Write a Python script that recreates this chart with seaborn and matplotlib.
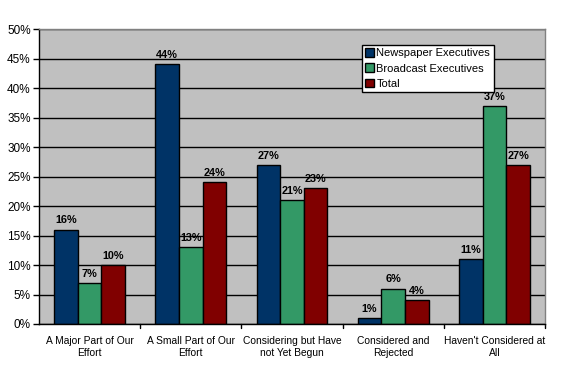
import matplotlib
matplotlib.use("Agg")
import matplotlib.pyplot as plt
import seaborn as sns
import pandas as pd

categories = ["A Major Part of Our\nEffort", "A Small Part of Our\nEffort",
              "Considering but Have\nnot Yet Begun", "Considered and\nRejected",
              "Haven't Considered at\nAll"]
series = ["Newspaper Executives", "Broadcast Executives", "Total"]
newspaper = [16, 44, 27, 1, 11]
broadcast = [7, 13, 21, 6, 37]
total = [10, 24, 23, 4, 27]
colors = ["#003366", "#339966", "#800000"]

rows = []
for s, vals in zip(series, [newspaper, broadcast, total]):
    for c, v in zip(categories, vals):
        rows.append({"cat": c, "series": s, "val": v})
df = pd.DataFrame(rows)

sns.set_theme(style="white")
plt.rcParams['font.family'] = ['Liberation Sans', 'DejaVu Sans']
plt.rcParams['text.color'] = 'black'
plt.rcParams['xtick.color'] = 'black'
plt.rcParams['ytick.color'] = 'black'

fig = plt.figure(figsize=(5.76, 3.70), dpi=100)
ax = fig.add_axes([39/576, 46/370, (545-39)/576, (324-29)/370])
sns.barplot(data=df, x="cat", y="val", hue="series", palette=colors,
            width=0.70, edgecolor="black", linewidth=1, saturation=1,
            ax=ax, errorbar=None)
ax.set_facecolor("#C0C0C0")
ax.set_ylim(0, 50)
ax.set_xlim(-0.5, 4.5)
ax.set_yticks(range(0, 51, 5))
ax.set_yticklabels([f"{v}%" for v in range(0, 51, 5)], fontsize=8.5)
ax.set_xticks(range(5))
ax.set_xticklabels(categories, fontsize=7.4, linespacing=1.25)
ax.tick_params(axis="x", length=0, pad=9)
ax.tick_params(axis="y", length=4, direction="out", left=True, width=1, color="black", pad=2)
for b in [0.5, 1.5, 2.5, 3.5, 4.5]:
    ax.plot([b, b], [0, -0.014], transform=ax.get_xaxis_transform(), color="black",
            lw=1, clip_on=False)
ax.grid(axis="y", color="black", lw=1)
ax.set_axisbelow(True)
ax.set_xlabel("")
ax.set_ylabel("")
for side in ["left", "bottom"]:
    ax.spines[side].set_color("black")
    ax.spines[side].set_linewidth(1)
for side in ["top", "right"]:
    ax.spines[side].set_color("#808080")
    ax.spines[side].set_linewidth(1)

for cont in ax.containers:
    ax.bar_label(cont, labels=[f"{int(v)}%" for v in cont.datavalues],
                 fontsize=7.8, fontweight="bold", padding=3, color="black")

leg = ax.legend(loc="upper left", bbox_to_anchor=((362-39)/506, 1-(45-29)/295),
                fontsize=8, frameon=True, fancybox=False, edgecolor="black",
                framealpha=1, borderpad=0.3, handlelength=0.8, handleheight=0.8,
                handletextpad=0.2, labelspacing=0.45, borderaxespad=0)
leg.get_frame().set_linewidth(1)
for t in leg.get_texts():
    t.set_color("black")

fig.savefig("out.png", dpi=100)
